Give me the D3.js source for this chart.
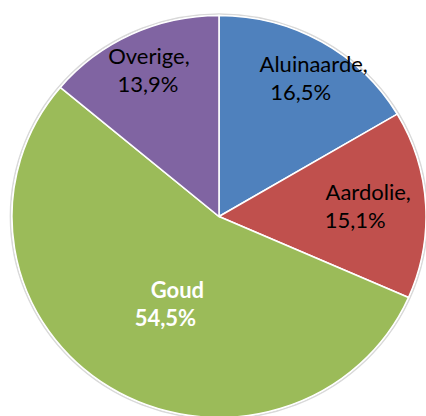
<!DOCTYPE html>
<html>
<head>
<meta charset="utf-8">
<script src="https://cdn.jsdelivr.net/npm/d3@7"></script>
<style>
  html, body { margin: 0; padding: 0; background: #fff; }
  text { font-family: Lato, "Open Sans", sans-serif; }
</style>
</head>
<body>
<svg id="chart"></svg>
<script>
// data
const categories = ["Aluinaarde", "Aardolie", "Goud", "Overige"];
const shares = [16.5, 15.1, 54.5, 13.9];
const colors = ["#4F81BD", "#C0504D", "#9BBB59", "#8064A2"];

const width = 426, height = 416;
const cx = 219, cy = 216.5;
const radius = 201;
const sx = 1.03;   // pie is slightly wider than tall in the original

const svg = d3.select("#chart")
    .attr("width", width)
    .attr("height", height);

const data = categories.map((c, i) => ({ name: c, value: shares[i], color: colors[i] }));

const pie = d3.pie()
    .value(d => d.value)
    .sort(null);

const arc = d3.arc()
    .innerRadius(0)
    .outerRadius(radius);

const arcs = pie(data);

const g = svg.append("g")
    .attr("transform", `translate(${cx}, ${cy}) scale(${sx}, 1)`);

// faint outer rim
g.append("circle")
    .attr("r", radius + 1.5)
    .attr("fill", "none")
    .attr("stroke", "#d9d9d9")
    .attr("stroke-width", 1.5);

g.selectAll(".slice")
    .data(arcs)
    .join("path")
    .attr("class", "slice")
    .attr("d", arc)
    .attr("fill", d => d.data.color)
    .attr("stroke", "#fff")
    .attr("stroke-width", 1.5);

// labels
const fmt = v => d3.format(".1f")(v).replace(".", ",") + "%";
const fontSize = 22;
const lineGap = 28;
// label box nudges, like the original's label placement
const nudge = { Aluinaarde: [13, 2], Aardolie: [0, 0], Goud: [13, 3], Overige: [0, 0] };
const line2dx = { Aluinaarde: -13, Aardolie: -13, Goud: -12, Overige: -1 };

arcs.forEach(d => {
    const big = d.data.value > 40;
    const lr = big ? radius * 0.5 : radius * 0.8;
    const [ax, ay] = d3.arc().innerRadius(lr).outerRadius(lr).centroid(d);
    let x = cx + ax * sx;
    const y = cy + ay + nudge[d.data.name][1];

    const lab = svg.append("g");
    const first = big ? d.data.name : d.data.name + ",";
    const t1 = lab.append("text")
        .attr("text-anchor", "middle")
        .attr("font-size", fontSize)
        .attr("font-weight", big ? "bold" : "normal")
        .attr("fill", big ? "#fff" : "#000")
        .attr("y", y - lineGap / 2 + 7)
        .text(first);
    const t2 = lab.append("text")
        .attr("text-anchor", "middle")
        .attr("font-size", fontSize)
        .attr("font-weight", big ? "bold" : "normal")
        .attr("fill", big ? "#fff" : "#000")
        .attr("y", y + lineGap / 2 + 7)
        .text(fmt(d.data.value));

    // keep the label box inside the pie edge
    const w = Math.max(t1.node().getComputedTextLength(), t2.node().getComputedTextLength());
    const edge = cx + radius * sx * Math.sqrt(Math.max(0, 1 - ((y - cy) / radius) ** 2));
    const leftEdge = 2 * cx - edge;
    if (x + w / 2 > edge - 15) x = edge - 15 - w / 2;
    if (x - w / 2 < leftEdge + 15) x = leftEdge + 15 + w / 2;
    x += nudge[d.data.name][0];

    t1.attr("x", x);
    t2.attr("x", x + line2dx[d.data.name]);
});
</script>
</body>
</html>
